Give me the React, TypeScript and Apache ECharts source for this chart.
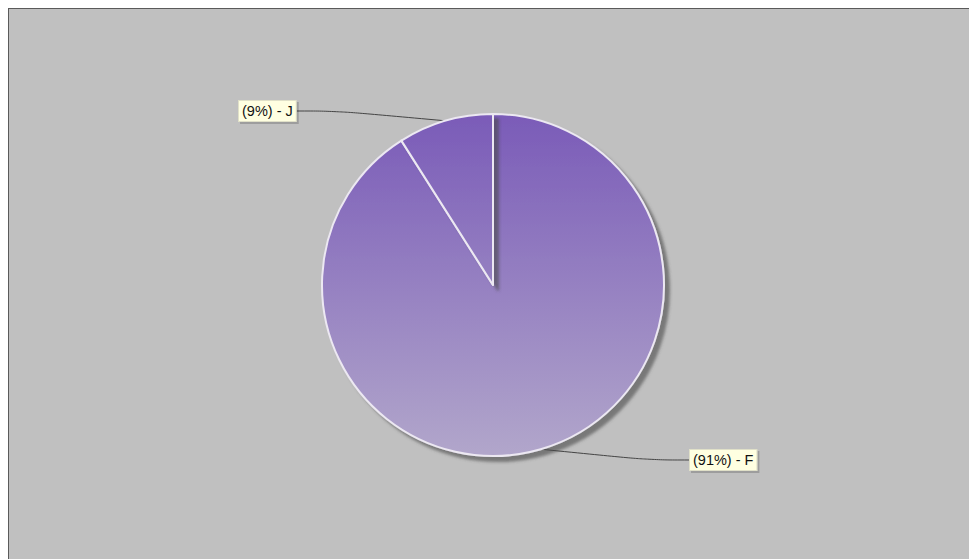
import React, { useEffect, useRef } from "react";
import * as echarts from "echarts";

const categories = ["F", "J"];
const values = [91, 9];

export default function App() {
  const ref = useRef<HTMLDivElement>(null);
  useEffect(() => {
    document.documentElement.style.overflow = "hidden";
    document.body.style.overflow = "hidden";
    if (!ref.current) return;
    const chart = echarts.init(ref.current, undefined, { renderer: "svg" });
    const gradient = {
      type: "linear",
      x: 0,
      y: 105,
      x2: 0,
      y2: 450,
      global: true,
      colorStops: [
        { offset: 0, color: "#7a5bb8" },
        { offset: 1, color: "#b2a7cb" },
      ],
    };
    const labelPos: Record<string, any> = {
      J: { x: 230, y: 102, align: "left", verticalAlign: "middle" },
      F: { x: 681, y: 451, align: "left", verticalAlign: "middle" },
    };
    chart.setOption({
      animation: false,
      backgroundColor: "#c0c0c0",
      series: [
        {
          type: "pie",
          center: [484, 276],
          radius: 171,
          startAngle: 90,
          clockwise: true,
          data: categories.map((c, i) => ({ name: c, value: values[i] })),
          itemStyle: {
            color: gradient as any,
            borderColor: "#ece8f2",
            borderWidth: 2,
            shadowColor: "rgba(70,70,70,0.6)",
            shadowBlur: 3,
            shadowOffsetX: 5,
            shadowOffsetY: 5,
          },
          emphasis: { disabled: true },
          label: {
            show: true,
            position: "outside",
            formatter: "({d}%) - {b}",
            fontFamily: "Liberation Sans, Arial, sans-serif",
            fontSize: 14.5,
            color: "#111",
            backgroundColor: "#ffffe1",
            borderColor: "#e0e0c8",
            borderWidth: 1,
            padding: [3, 3, 2, 3],
            shadowColor: "rgba(0,0,0,0.18)",
            shadowBlur: 1,
            shadowOffsetX: 2,
            shadowOffsetY: 2,
          },
          labelLine: {
            show: true,
            length: 20,
            length2: 40,
            smooth: 0.4,
            lineStyle: { color: "#444", width: 1 },
          },
          labelLayout: (params: any) => {
            const p = labelPos[categories[params.dataIndex]];
            return { x: p.x, y: p.y, align: p.align, verticalAlign: p.verticalAlign };
          },
        },
      ],
    });
    return () => chart.dispose();
  }, []);
  return (
    <div
      style={{
        position: "absolute",
        left: 8,
        top: 8,
        width: 961,
        height: 551,
        borderTop: "1px solid #5a5a5a",
        borderLeft: "1px solid #5a5a5a",
        background: "#c0c0c0",
        boxSizing: "border-box",
        overflow: "hidden",
      }}
    >
      <div ref={ref} style={{ width: 960, height: 550 }} />
    </div>
  );
}
